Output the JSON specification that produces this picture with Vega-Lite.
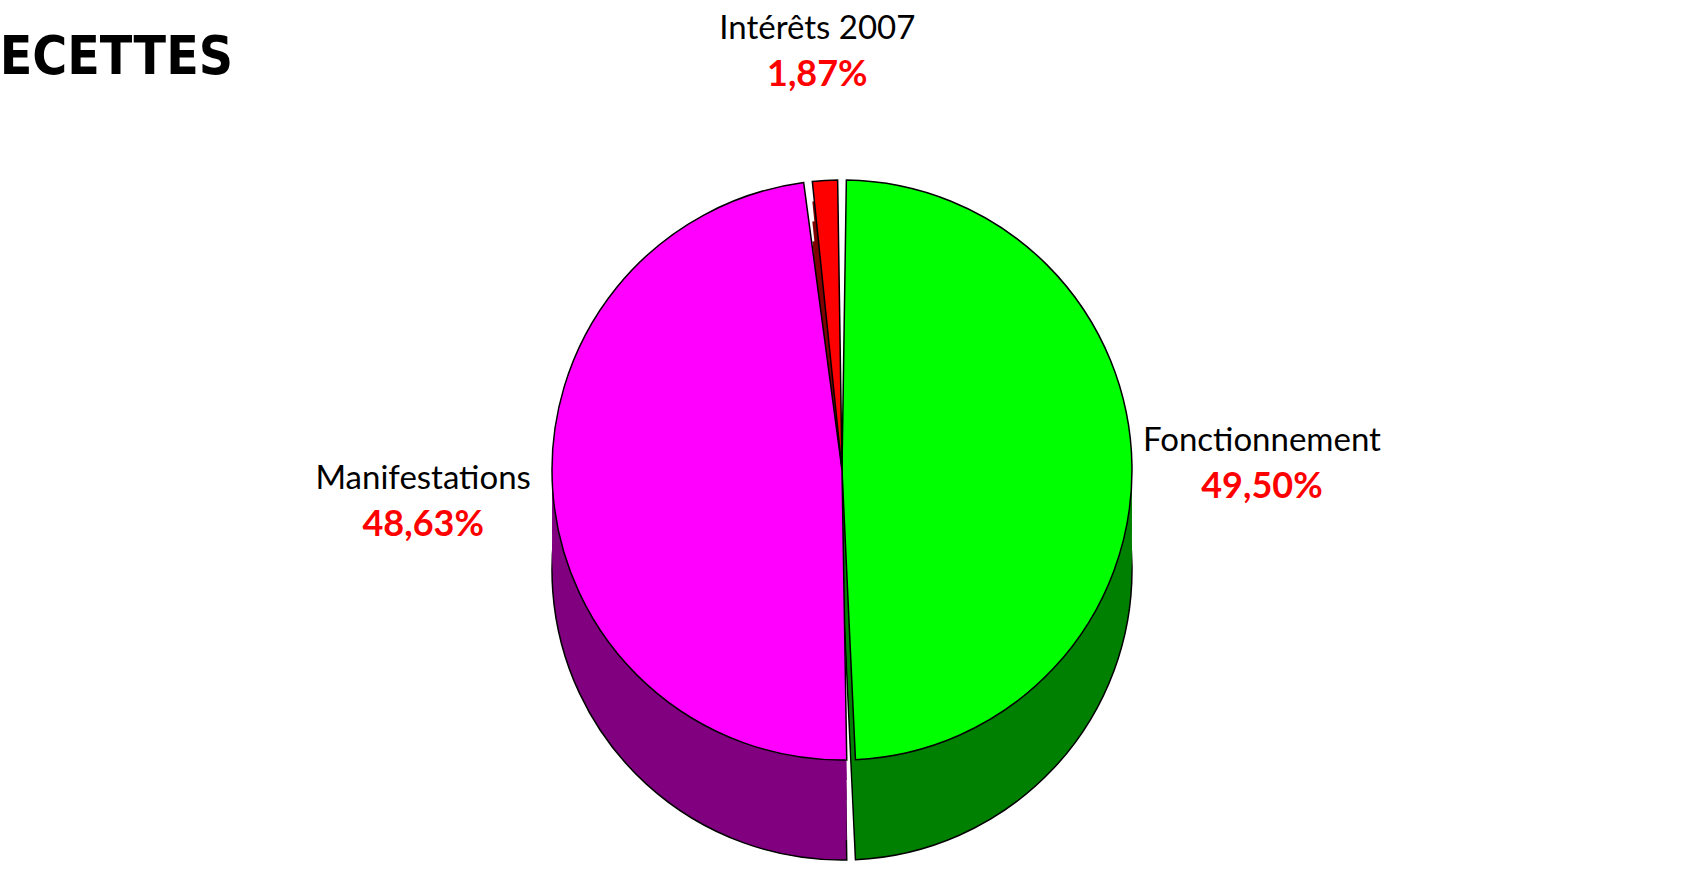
{
  "$schema": "https://vega.github.io/schema/vega-lite/v6.json",
  "autosize": {"type": "none"},
  "width": 1684,
  "height": 810,
  "padding": {"top": 83, "left": 0, "right": 0, "bottom": 0},
  "background": "white",
  "title": {
    "text": "RECETTES",
    "anchor": "start",
    "frame": "group",
    "dx": -37,
    "baseline": "alphabetic",
    "font": "DejaVu Sans Condensed, Liberation Sans, sans-serif",
    "fontSize": 53,
    "fontWeight": "bold",
    "color": "black",
    "offset": -114
  },
  "config": {
    "view": {"stroke": null},
    "locale": {"number": {"decimal": ",", "thousands": " ", "grouping": [3], "currency": ["", " €"]}}
  },
  "data": {
    "values": [
      {"cat": "Fonctionnement", "val": 0.4950},
      {"cat": "Manifestations", "val": 0.4863},
      {"cat": "Intérêts 2007", "val": 0.0187}
    ]
  },
  "encoding": {
    "theta": {"field": "val", "type": "quantitative", "stack": true},
    "order": {"field": "val", "sort": "descending"}
  },
  "layer": [
    {
      "mark": {"type": "arc", "outerRadius": 290, "padAngle": 0.03, "yOffset": 82, "stroke": "black", "strokeWidth": 1.5},
      "encoding": {"color": {"field": "cat", "type": "nominal", "legend": null, "scale": {"domain": ["Fonctionnement", "Manifestations", "Intérêts 2007"], "range": ["#008000", "#800080", "#800000"]}}}
    },
    {
      "mark": {"type": "arc", "outerRadius": 290, "padAngle": 0.03, "yOffset": 62},
      "encoding": {"color": {"field": "cat", "type": "nominal", "legend": null, "scale": {"domain": ["Fonctionnement", "Manifestations", "Intérêts 2007"], "range": ["#008000", "#800080", "#800000"]}}}
    },
    {
      "mark": {"type": "arc", "outerRadius": 290, "padAngle": 0.03, "yOffset": 42},
      "encoding": {"color": {"field": "cat", "type": "nominal", "legend": null, "scale": {"domain": ["Fonctionnement", "Manifestations", "Intérêts 2007"], "range": ["#008000", "#800080", "#800000"]}}}
    },
    {
      "mark": {"type": "arc", "outerRadius": 290, "padAngle": 0.03, "yOffset": 22},
      "encoding": {"color": {"field": "cat", "type": "nominal", "legend": null, "scale": {"domain": ["Fonctionnement", "Manifestations", "Intérêts 2007"], "range": ["#008000", "#800080", "#800000"]}}}
    },
    {
      "mark": {"type": "arc", "outerRadius": 290, "padAngle": 0.03, "yOffset": 2},
      "encoding": {"color": {"field": "cat", "type": "nominal", "legend": null, "scale": {"domain": ["Fonctionnement", "Manifestations", "Intérêts 2007"], "range": ["#008000", "#800080", "#800000"]}}}
    },
    {
      "mark": {"type": "arc", "outerRadius": 290, "padAngle": 0.03, "yOffset": -18, "stroke": "black", "strokeWidth": 1.5},
      "encoding": {"color": {"field": "cat", "type": "nominal", "legend": null, "scale": {"domain": ["Fonctionnement", "Manifestations", "Intérêts 2007"], "range": ["#00FF00", "#FF00FF", "#FF0000"]}}}
    },
    {
      "mark": {"type": "text", "radius": 420, "yOffset": -18, "dy": -22, "font": "Lato", "fontSize": 33, "color": "black", "align": "center", "baseline": "middle"},
      "encoding": {
        "detail": {"field": "cat", "type": "nominal"},
        "text": {"field": "cat", "type": "nominal"}
      }
    },
    {
      "mark": {"type": "text", "radius": 420, "yOffset": -18, "dy": 24, "font": "Lato", "fontSize": 36, "fontWeight": "bold", "color": "#FF0000", "align": "center", "baseline": "middle"},
      "encoding": {
        "detail": {"field": "cat", "type": "nominal"},
        "text": {"field": "val", "type": "quantitative", "format": ".2%"}
      }
    }
  ],
  "resolve": {"scale": {"color": "independent"}}
}
